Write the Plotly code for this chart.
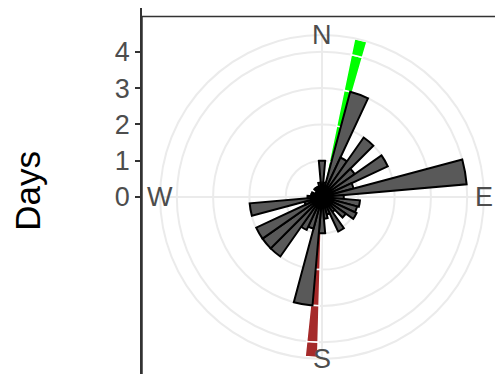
import math
import plotly.graph_objects as go

# ---- data ----
bin_centers = [0, 10, 20, 30, 40, 50, 60, 70, 80, 90, 100, 110, 120, 130, 140, 150, 160, 170,
               180, 190, 200, 210, 220, 230, 240, 250, 260, 270, 280, 290, 300, 310, 320, 330, 340, 350]
days = [1.0, 0.4, 3.0, 1.2, 2.0, 1.1, 2.0, 0.9, 4.0, 0.6, 1.05, 1.0, 1.05, 0.8, 0.5, 1.05, 0.5, 0.6,
        1.0, 3.0, 0.9, 1.0, 2.0, 2.0, 2.0, 0.5, 2.0, 0.4, 0.3, 0.3, 0.2, 0.2, 0.3, 0.3, 0.3, 0.4]
arrow_dirs = [13.9, 183.8]
arrow_lengths = [4.45, 4.42]
arrow_colors = ["#00FF00", "#A52A2A"]
radial_ticks = [0, 1, 2, 3, 4]
compass_labels = ["N", "E", "S", "W"]
compass_angles = [0, 90, 180, 270]

OFF = 8                     # page body margin of the browser
W, H = 503 - OFF, 374 - OFF
cx, cy = 322 - OFF, 197 - OFF   # polar centre (figure px)
px_per_day = 36.3
rmax = 4.46
R = rmax * px_per_day

fig = go.Figure()

# arrows drawn as stacked unit segments (white separators)
for d, L, c in zip(arrow_dirs, arrow_lengths, arrow_colors):
    bases, rs = [], []
    b = 0.0
    while b < L - 1e-9:
        seg = min(1.0, L - b)
        bases.append(b)
        rs.append(seg)
        b += 1.0
    fig.add_trace(go.Barpolar(theta=[d] * len(rs), r=rs, base=bases, width=[4.5] * len(rs),
                              marker=dict(color=c, line=dict(color="white", width=1.5)),
                              hoverinfo="skip", showlegend=False))

fig.add_trace(go.Barpolar(theta=bin_centers, r=days, width=[10] * len(days),
                          marker=dict(color="#595959", line=dict(color="black", width=2)),
                          showlegend=False))

# dummy cartesian trace so the left "Days" axis renders
fig.add_trace(go.Scatter(x=[0], y=[0], mode="markers", marker=dict(opacity=0),
                         hoverinfo="skip", showlegend=False))

fontfam = "Liberation Sans, Arial, sans-serif"
ylo = (cy - H) / px_per_day
yhi = cy / px_per_day
xl = 142 - OFF

fig.update_layout(
    width=W, height=H,
    margin=dict(l=0, r=0, t=0, b=0),
    paper_bgcolor="white", plot_bgcolor="rgba(0,0,0,0)",
    font=dict(family=fontfam, color="#4D4D4D"),
    polar=dict(
        domain=dict(x=[(cx - R) / W, (cx + R) / W], y=[1 - (cy + R) / H, 1 - (cy - R) / H]),
        bgcolor="rgba(0,0,0,0)",
        angularaxis=dict(rotation=90, direction="clockwise", tickvals=compass_angles,
                         showticklabels=False, ticks="", showgrid=True, gridcolor="#EBEBEB",
                         gridwidth=2, showline=True, linecolor="#EBEBEB", linewidth=2),
        radialaxis=dict(range=[0, rmax], tickvals=radial_ticks[1:], showticklabels=False,
                        ticks="", showline=False, showgrid=True, gridcolor="#EBEBEB", gridwidth=2),
    ),
    xaxis=dict(domain=[xl / W, 1], visible=False, range=[0, 1]),
    yaxis=dict(domain=[0, 1], range=[ylo, yhi], tickvals=radial_ticks, ticks="outside",
               ticklen=5, tickwidth=1.5, tickcolor="#333333", showline=True, linecolor="#333333",
               linewidth=1.5, showgrid=False, zeroline=False,
               tickfont=dict(size=27, color="#4D4D4D", family=fontfam),
               title=dict(text="Days", font=dict(size=35, color="black", family=fontfam), standoff=64)),
)

# panel border
fig.add_shape(type="rect", xref="paper", yref="paper", x0=xl / W, x1=(502.5 - OFF) / W,
              y0=-0.2, y1=1 - (16.5 - OFF) / H, line=dict(color="#333333", width=1.5), layer="above")

# compass labels centred on the outer circle
for lab, ang in zip(compass_labels, compass_angles):
    a = math.radians(ang)
    x = cx + R * math.sin(a)
    y = cy - R * math.cos(a)
    fig.add_annotation(x=x / W, y=1 - y / H, xref="paper", yref="paper", text=lab, showarrow=False,
                       xanchor="center", yanchor="middle", font=dict(size=27, color="#4D4D4D", family=fontfam))

fig.write_html("out.html")
